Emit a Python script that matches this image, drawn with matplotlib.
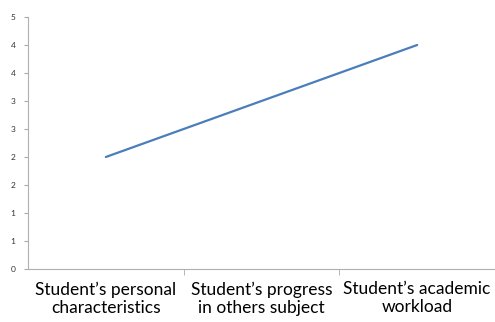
import numpy as np
import matplotlib.pyplot as plt
from matplotlib.ticker import FixedLocator

categories = ["Student\u2019s personal\ncharacteristics",
              "Student\u2019s progress\nin others subject",
              "Student\u2019s academic\nworkload"]
values = [2, 3, 4]
y_ticks = [0, 0.5, 1, 1.5, 2, 2.5, 3, 3.5, 4, 4.5]
y_labels = ["0", "1", "1", "2", "2", "3", "3", "4", "4", "5"]

fig = plt.figure(figsize=(4.95, 3.22), dpi=100)
ax = fig.add_axes([28 / 495, 1 - 269 / 322, 467 / 495, 252 / 322])

x = np.arange(len(categories))
ax.plot(x, values, color='#4a7ebb', linewidth=1.6, solid_capstyle='round')

ax.set_xlim(-0.5, len(categories) - 0.5)
ax.set_ylim(0, 4.5)

ax.set_yticks(y_ticks)
ax.set_yticklabels(y_labels, fontsize=6, color='#333333', family='Lato')
ax.tick_params(axis='y', length=3, color='#aaaaaa', pad=6)

ax.set_xticks(x)
ax.set_xticklabels(categories, fontsize=12.5, family='Lato', linespacing=1.15)
ax.tick_params(axis='x', which='major', length=0, pad=9)
ax.xaxis.set_minor_locator(FixedLocator([0.5, 1.5, 2.5]))
ax.tick_params(axis='x', which='minor', length=4, color='#aaaaaa')

for side in ['top', 'right']:
    ax.spines[side].set_visible(False)
for side in ['left', 'bottom']:
    ax.spines[side].set_color('#b0b0b0')
    ax.spines[side].set_linewidth(0.8)

fig.savefig('out.png', dpi=100)
